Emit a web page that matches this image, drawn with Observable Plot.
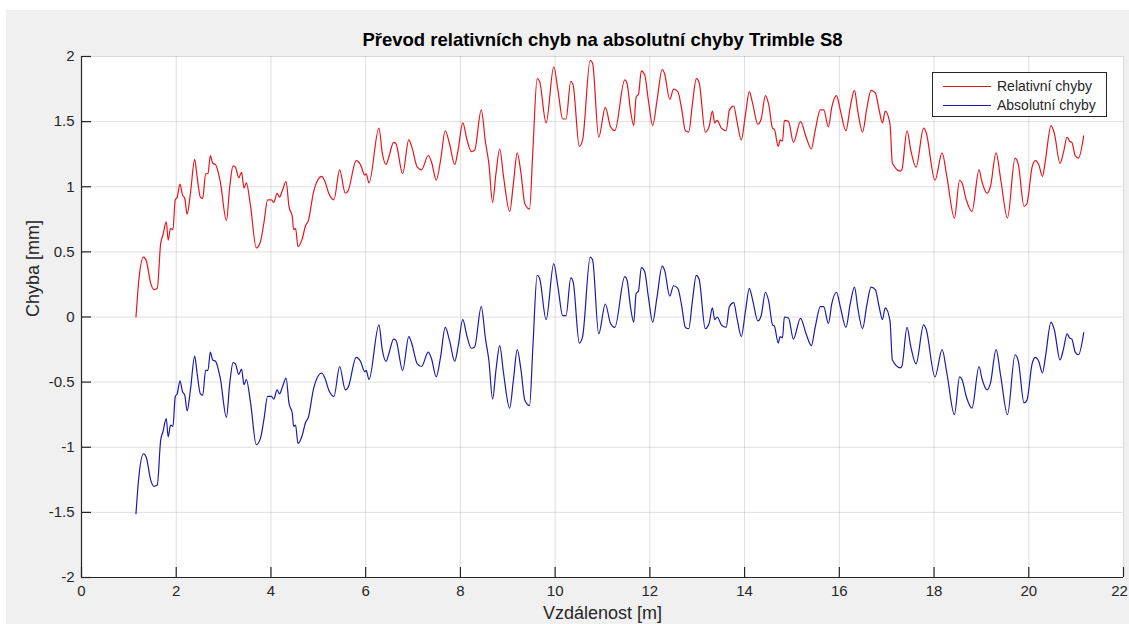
<!DOCTYPE html>
<html>
<head>
<meta charset="utf-8">
<script src="https://cdn.jsdelivr.net/npm/d3@7"></script>
<script src="https://cdn.jsdelivr.net/npm/@observablehq/plot@0.6"></script>
<style>
  html, body { margin: 0; padding: 0; background: #ffffff; }
  #fig { position: relative; width: 1129px; height: 624px; overflow: hidden; font-family: "Liberation Sans", Arial, sans-serif; }
  #bg { position: absolute; left: 6px; top: 10px; right: 0; bottom: 0; background: #f0f0f0; }
  #chart { position: absolute; left: 0; top: 0; }
  #chart svg { background: transparent !important; }
  #legend { position: absolute; left: 932px; top: 72px; width: 175px; height: 45px; box-sizing: border-box;
            border: 1px solid #262626; background: #ffffff; }
  #legend .row { position: absolute; left: 0; height: 18px; display: flex; align-items: center; }
  #legend .sample { width: 48px; height: 0; margin-left: 10px; margin-right: 6px; }
  #legend .label { font-size: 14px; color: #262626; white-space: nowrap; }
</style>
</head>
<body>
<div id="fig">
  <div id="bg"></div>
  <div id="chart"></div>
  <div id="legend"></div>
</div>
<script>
// Distance along the baseline [m]
const vzdalenost = [
  1.15,1.21,1.31,1.37,1.46,1.53,1.60,1.67,1.72,1.79, 1.83,1.88,1.93,1.98,2.02,2.08,2.13,2.18,2.23,2.30,
  2.39,2.44,2.51,2.56,2.62,2.67,2.72,2.77,2.83,2.93, 3.06,3.13,3.20,3.25,3.32,3.38,3.43,3.48,3.57,3.69,
  3.78,3.85,3.93,4.01,4.06,4.13,4.18,4.24,4.32,4.38, 4.45,4.48,4.52,4.57,4.66,4.73,4.79,4.90,5.07,5.14,
  5.22,5.33,5.45,5.57,5.63,5.80,5.89,5.98,6.01,6.07,
  6.28,6.35,6.43,6.49,6.59,6.64,6.78,6.91,6.97,7.09, 7.18,7.32,7.39,7.49,7.58,7.68,7.77,7.88,7.95,8.05,
  8.14,8.23,8.30,8.44,8.53,8.60,8.68,8.75,8.83,8.91, 9.04,9.12,9.20,9.28,9.36,9.46,9.53,9.62,9.67,9.81,
  9.97,10.06,10.16,10.23,10.33,10.38,10.51,10.58,10.74,10.79, 10.92,11.06,11.17,11.26,11.47,11.52,11.59,11.66,11.71,11.76,
  11.82,11.89,11.97,12.06,12.15,12.26,12.31,12.42,12.50,12.59, 12.67,12.75,12.82,12.90,12.98,13.04,13.17,13.25,13.32,13.37,
  13.42,13.51,13.61,13.68,13.77,13.84,13.93,14.02,14.10,14.17, 14.28,14.35,14.44,14.51,14.59,14.63,14.71,14.75,14.80,14.84,
  14.93,15.03,15.18,15.30,15.41,15.49,15.60,15.67,15.77,15.84, 15.94,16.02,16.14,16.23,16.32,16.39,16.49,16.58,16.67,16.76,
  16.84,16.91,16.97,17.07,17.12,17.29,17.32,
  17.43,17.51,17.62,17.78,17.83,18.02,18.17,18.27,18.43,18.54, 18.59,18.68,18.80,18.95,19.01,19.12,19.19,19.31,19.41,19.55,
  19.71,19.78,19.90,19.96,20.07,20.14,20.21,20.29,20.35,20.47, 20.54,20.66,20.73,20.81,20.86,20.91,20.98,21.05,21.16
];

// Relative errors [mm]
const relativniChyby = [
  0.00,0.28,0.46,0.43,0.26,0.21,0.22,0.56,0.63,0.73, 0.59,0.68,0.67,0.90,0.92,1.02,0.94,0.91,0.79,0.95,
  1.21,1.08,0.92,0.91,1.10,1.10,1.24,1.18,1.17,1.04, 0.74,1.00,1.16,1.15,1.07,1.11,0.99,1.03,0.85,0.53,
  0.58,0.72,0.90,0.90,0.88,0.95,0.92,0.97,1.04,0.85, 0.77,0.67,0.68,0.54,0.60,0.70,0.74,0.96,1.08,1.04,
  0.95,0.90,1.13,0.95,0.97,1.20,1.17,1.09,1.10,1.03,
  1.45,1.26,1.17,1.23,1.34,1.33,1.10,1.36,1.31,1.15, 1.13,1.24,1.19,1.05,1.20,1.43,1.33,1.17,1.28,1.49,
  1.36,1.27,1.28,1.59,1.34,1.18,0.88,1.10,1.29,1.08, 0.81,1.03,1.26,1.10,0.87,0.83,1.28,1.83,1.81,1.49,
  1.92,1.74,1.52,1.52,1.81,1.78,1.31,1.36,1.97,1.95, 1.38,1.61,1.46,1.43,1.82,1.79,1.59,1.47,1.69,1.71,
  1.89,1.86,1.66,1.47,1.66,1.90,1.87,1.67,1.75,1.73, 1.60,1.43,1.42,1.64,1.83,1.80,1.42,1.46,1.58,1.49,
  1.51,1.45,1.43,1.59,1.62,1.50,1.36,1.56,1.73,1.64, 1.48,1.52,1.70,1.63,1.45,1.44,1.31,1.36,1.35,1.51,
  1.50,1.34,1.50,1.38,1.29,1.43,1.59,1.59,1.46,1.61, 1.70,1.59,1.43,1.61,1.74,1.58,1.42,1.60,1.74,1.72,
  1.59,1.49,1.58,1.48,1.18,1.12,1.13,
  1.43,1.28,1.15,1.45,1.42,1.05,1.26,1.08,0.76,1.05, 1.03,0.90,0.81,1.13,1.04,0.95,1.00,1.26,1.05,0.76,
  1.22,1.17,0.85,0.87,1.15,1.20,1.17,1.08,1.20,1.47, 1.41,1.18,1.26,1.38,1.35,1.34,1.24,1.22,1.39
];

// Absolute errors [mm]
const absolutniChyby = [
  -1.51,-1.23,-1.05,-1.08,-1.25,-1.30,-1.29,-0.95,-0.88,-0.78, -0.92,-0.83,-0.84,-0.61,-0.59,-0.49,-0.57,-0.60,-0.72,-0.56,
  -0.30,-0.43,-0.59,-0.60,-0.41,-0.41,-0.27,-0.33,-0.34,-0.47, -0.77,-0.51,-0.35,-0.36,-0.44,-0.40,-0.52,-0.48,-0.66,-0.98,
  -0.93,-0.79,-0.61,-0.61,-0.63,-0.56,-0.59,-0.54,-0.47,-0.66, -0.74,-0.84,-0.83,-0.97,-0.91,-0.81,-0.77,-0.55,-0.43,-0.47,
  -0.56,-0.61,-0.38,-0.56,-0.54,-0.31,-0.34,-0.42,-0.41,-0.48,
  -0.06,-0.25,-0.34,-0.28,-0.17,-0.18,-0.41,-0.15,-0.20,-0.36, -0.38,-0.27,-0.32,-0.46,-0.31,-0.08,-0.18,-0.34,-0.23,-0.02,
  -0.15,-0.24,-0.23,0.08,-0.17,-0.33,-0.63,-0.41,-0.22,-0.43, -0.70,-0.48,-0.25,-0.41,-0.64,-0.68,-0.23,0.32,0.30,-0.02,
  0.41,0.23,0.01,0.01,0.30,0.27,-0.20,-0.15,0.46,0.44, -0.13,0.10,-0.05,-0.08,0.31,0.28,0.08,-0.04,0.18,0.20,
  0.38,0.35,0.15,-0.04,0.15,0.39,0.36,0.16,0.24,0.22, 0.09,-0.08,-0.09,0.13,0.32,0.29,-0.09,-0.05,0.07,-0.02,
  0.00,-0.06,-0.08,0.08,0.11,-0.01,-0.15,0.05,0.22,0.13, -0.03,0.01,0.19,0.12,-0.06,-0.07,-0.20,-0.15,-0.16,0.00,
  -0.01,-0.17,-0.01,-0.13,-0.22,-0.08,0.08,0.08,-0.05,0.10, 0.19,0.08,-0.08,0.10,0.23,0.07,-0.09,0.09,0.23,0.21,
  0.08,-0.02,0.07,-0.03,-0.33,-0.39,-0.38,
  -0.08,-0.23,-0.36,-0.06,-0.09,-0.46,-0.25,-0.43,-0.75,-0.46, -0.48,-0.61,-0.70,-0.38,-0.47,-0.56,-0.51,-0.25,-0.46,-0.75,
  -0.29,-0.34,-0.66,-0.64,-0.36,-0.31,-0.34,-0.43,-0.31,-0.04, -0.10,-0.33,-0.25,-0.13,-0.16,-0.17,-0.27,-0.29,-0.12
];

// Axis ticks and their labels
const xTicks = [0, 2, 4, 6, 8, 10, 12, 14, 16, 18, 20, 22];
const xTickLabels = ["0", "2", "4", "6", "8", "10", "12", "14", "16", "18", "20", "22"];
const yTicks = [-2, -1.5, -1, -0.5, 0, 0.5, 1, 1.5, 2];
const yTickLabels = ["-2", "-1.5", "-1", "-0.5", "0", "0.5", "1", "1.5", "2"];

// Series names and colours
const seriesNames = ["Relativní chyby", "Absolutní chyby"];
const seriesColors = ["#e8141c", "#1a1aae"];

const titleText = "Převod relativních chyb na absolutní chyby Trimble S8";
const xLabel = "Vzdálenost [m]";
const yLabel = "Chyba [mm]";

const rows = vzdalenost.map((x, i) => ({ x, rel: relativniChyby[i], abs: absolutniChyby[i] }));

const W = 1129, H = 624;
const M = { top: 56, right: 6, bottom: 47, left: 81 };
const frameW = W - M.left - M.right;
const frameH = H - M.top - M.bottom;
const axisColor = "#262626";
const tickLen = 10;
const font = "'Liberation Sans', Arial, sans-serif";
const lastX = xTicks[xTicks.length - 1];

const chart = Plot.plot({
  width: W,
  height: H,
  marginTop: M.top,
  marginRight: M.right,
  marginBottom: M.bottom,
  marginLeft: M.left,
  style: { fontFamily: font, background: "transparent", overflow: "visible" },
  x: { domain: [0, 22] },
  y: { domain: [-2, 2] },
  marks: [
    Plot.frame({ fill: "#ffffff", stroke: null }),
    Plot.gridX(xTicks, { stroke: axisColor, strokeOpacity: 0.15 }),
    Plot.gridY(yTicks, { stroke: axisColor, strokeOpacity: 0.15 }),
    Plot.line(rows, { x: "x", y: "rel", stroke: seriesColors[0], strokeWidth: 1.2, curve: "monotone-x" }),
    Plot.line(rows, { x: "x", y: "abs", stroke: seriesColors[1], strokeWidth: 1.2, curve: "monotone-x" }),
    // axis lines (left and bottom only)
    Plot.ruleY([-2], { stroke: axisColor, strokeWidth: 1.2 }),
    Plot.ruleX([0], { stroke: axisColor, strokeWidth: 1.2 }),
    // inward-pointing tick marks
    Plot.tickX(xTicks, { x: d => d, stroke: axisColor, strokeWidth: 1.2, insetTop: frameH - tickLen }),
    Plot.tickY(yTicks, { y: d => d, stroke: axisColor, strokeWidth: 1.2, insetRight: frameW - tickLen }),
    // x tick labels; the last one sits against the right edge of the figure
    Plot.axisX(xTicks.slice(0, -1), {
      tickSize: 0, tickPadding: 8, fontSize: 15, fill: axisColor, label: null,
      tickFormat: d => xTickLabels[xTicks.indexOf(d)]
    }),
    Plot.text([lastX], {
      x: d => d, frameAnchor: "bottom", lineAnchor: "top", dy: 8, dx: -4, fontSize: 15, fill: axisColor,
      text: d => xTickLabels[xTicks.indexOf(d)]
    }),
    Plot.axisY(yTicks, {
      tickSize: 0, tickPadding: 7, fontSize: 15, fill: axisColor, label: null,
      tickFormat: d => yTickLabels[yTicks.indexOf(d)]
    }),
    // title and axis labels
    Plot.text([titleText], {
      frameAnchor: "top", lineAnchor: "middle", dy: -16, fontSize: 18.5, fontWeight: "bold", fill: "#000000", text: d => d
    }),
    Plot.text([xLabel], {
      frameAnchor: "bottom", lineAnchor: "middle", dy: 36, fontSize: 18, fill: axisColor, text: d => d
    }),
    Plot.text([yLabel], {
      frameAnchor: "left", dx: -48, rotate: -90, fontSize: 18, fill: axisColor, text: d => d
    })
  ]
});
document.getElementById("chart").appendChild(chart);

// legend box
const legend = document.getElementById("legend");
seriesNames.forEach((name, i) => {
  const row = document.createElement("div");
  row.className = "row";
  row.style.top = (4 + i * 19) + "px";
  const sample = document.createElement("div");
  sample.className = "sample";
  sample.style.borderTop = "1.3px solid " + seriesColors[i];
  const label = document.createElement("span");
  label.className = "label";
  label.textContent = name;
  row.appendChild(sample);
  row.appendChild(label);
  legend.appendChild(row);
});
</script>
</body>
</html>
